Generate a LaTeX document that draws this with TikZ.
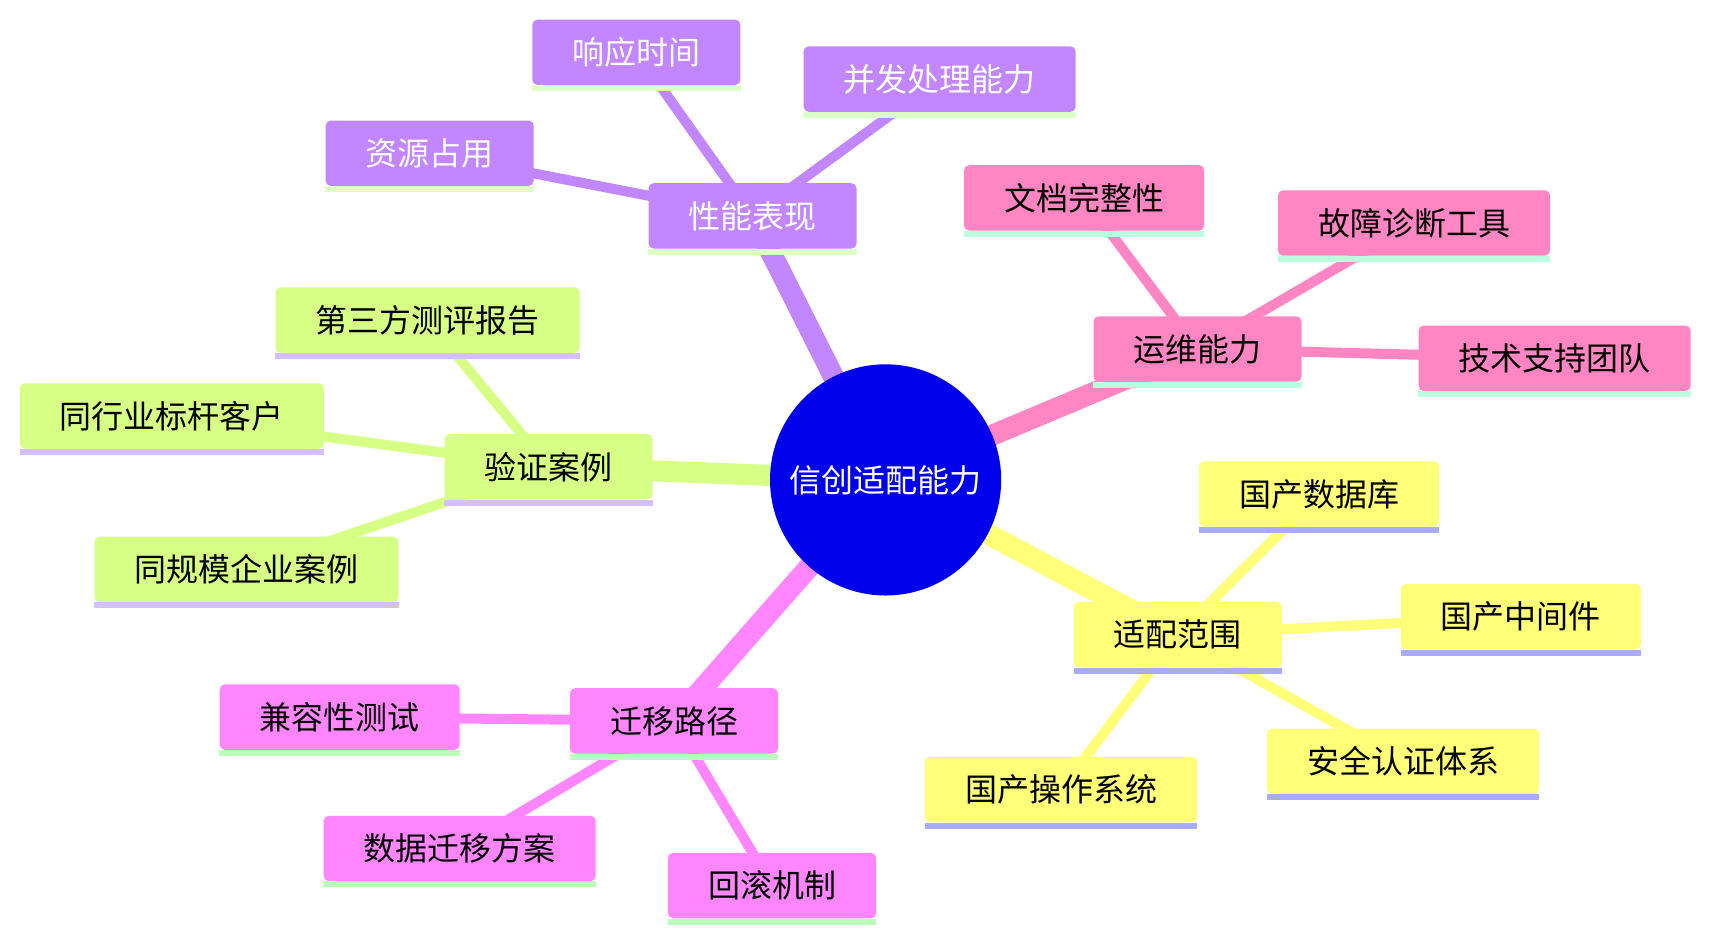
\documentclass[tikz,border=0pt]{standalone}
\usepackage{fontspec}
\setmainfont{Noto Sans CJK SC}
\usetikzlibrary{backgrounds}
\definecolor{cRoot}{HTML}{0000EA}
\definecolor{cYel}{HTML}{FFFF78}
\definecolor{cLime}{HTML}{D7FF86}
\definecolor{cPurp}{HTML}{C286FF}
\definecolor{cMag}{HTML}{FF86FF}
\definecolor{cPink}{HTML}{FF86C2}
\definecolor{uYel}{HTML}{AAAAFF}
\definecolor{uLime}{HTML}{D4BFFF}
\definecolor{uPurp}{HTML}{DDFFC8}
\definecolor{uMag}{HTML}{BBFFBB}
\definecolor{uPink}{HTML}{BBFFE0}
\begin{document}
\begin{tikzpicture}[x=0.75pt,y=-0.75pt,
  font=\fontsize{24pt}{28pt}\selectfont,
  box/.style={rectangle, rounded corners=3.75pt, minimum height=49pt, inner xsep=30pt, inner ysep=0pt},
  purpbox/.style={box, fill=cPurp, text=white},
  pinkbox/.style={box, fill=cPink, text=black},
  yelbox/.style={box, fill=cYel, text=black},
  limebox/.style={box, fill=cLime, text=black},
  magbox/.style={box, fill=cMag, text=black},
  rootnode/.style={circle, fill=cRoot, text=white, minimum size=173.4pt, inner sep=0pt},
  thickedge/.style={line width=15.75pt},
  thinedge/.style={line width=7.5pt},
]
\useasboundingbox (0,0) rectangle (1710,940);

% root
\node[rootnode] (root) at (885.6,479.9) {信创适配能力};

% performance group
\node[purpbox] (perf) at (752.5,215.9) {性能表现};
\node[purpbox] (resp) at (636.4,52.3) {响应时间};
\node[purpbox] (conc) at (939.6,79.1) {并发处理能力};
\node[purpbox] (res)  at (429.7,153.2) {资源占用};

% ops group
\node[pinkbox] (ops)  at (1197.5,349.0) {运维能力};
\node[pinkbox] (doc)  at (1084.1,197.9) {文档完整性};
\node[pinkbox] (diag) at (1414.0,223.0) {故障诊断工具};
\node[pinkbox] (tech) at (1554.6,358.3) {技术支持团队};

% verification group
\node[limebox] (ver)  at (548.6,466.8) {验证案例};
\node[limebox] (third) at (427.5,320.1) {第三方测评报告};
\node[limebox] (peer) at (171.8,416.1) {同行业标杆客户};
\node[limebox] (scale) at (246.5,569.3) {同规模企业案例};

% adaptation group
\node[yelbox] (adapt) at (1177.8,634.7) {适配范围};
\node[yelbox] (db)   at (1319.1,494.0) {国产数据库};
\node[yelbox] (mid)  at (1520.8,616.7) {国产中间件};
\node[yelbox] (sec)  at (1403.1,761.2) {安全认证体系};
\node[yelbox] (os)   at (1061.2,789.6) {国产操作系统};

% migration group
\node[magbox] (mig)  at (674.0,720.9) {迁移路径};
\node[magbox] (comp) at (339.7,717.1) {兼容性测试};
\node[magbox] (data) at (459.7,848.5) {数据迁移方案};
\node[magbox] (roll) at (772.1,885.6) {回滚机制};

% underlines
\foreach \n/\c in {perf/uPurp,resp/uPurp,conc/uPurp,res/uPurp,
                   ops/uPink,doc/uPink,diag/uPink,tech/uPink,
                   ver/uLime,third/uLime,peer/uLime,scale/uLime,
                   adapt/uYel,db/uYel,mid/uYel,sec/uYel,os/uYel,
                   mig/uMag,comp/uMag,data/uMag,roll/uMag}
  \fill[\c] (\n.south west) rectangle ([yshift=-4.5pt]\n.south east);

\begin{scope}[on background layer]
  \fill[white] (0,0) rectangle (1710,940);
  \draw[thickedge, cPurp] (root.center) -- (perf.center);
  \draw[thickedge, cPink] (root.center) -- (ops.center);
  \draw[thickedge, cLime] (root.center) -- (ver.center);
  \draw[thickedge, cYel]  (root.center) -- (adapt.center);
  \draw[thickedge, cMag]  (root.center) -- (mig.center);
  \foreach \a/\b in {perf/resp,perf/conc,perf/res}
    \draw[thinedge, cPurp] (\a.center) -- (\b.center);
  \foreach \a/\b in {ops/doc,ops/diag,ops/tech}
    \draw[thinedge, cPink] (\a.center) -- (\b.center);
  \foreach \a/\b in {ver/third,ver/peer,ver/scale}
    \draw[thinedge, cLime] (\a.center) -- (\b.center);
  \foreach \a/\b in {adapt/db,adapt/mid,adapt/sec,adapt/os}
    \draw[thinedge, cYel] (\a.center) -- (\b.center);
  \foreach \a/\b in {mig/comp,mig/data,mig/roll}
    \draw[thinedge, cMag] (\a.center) -- (\b.center);
\end{scope}
\end{tikzpicture}
\end{document}
